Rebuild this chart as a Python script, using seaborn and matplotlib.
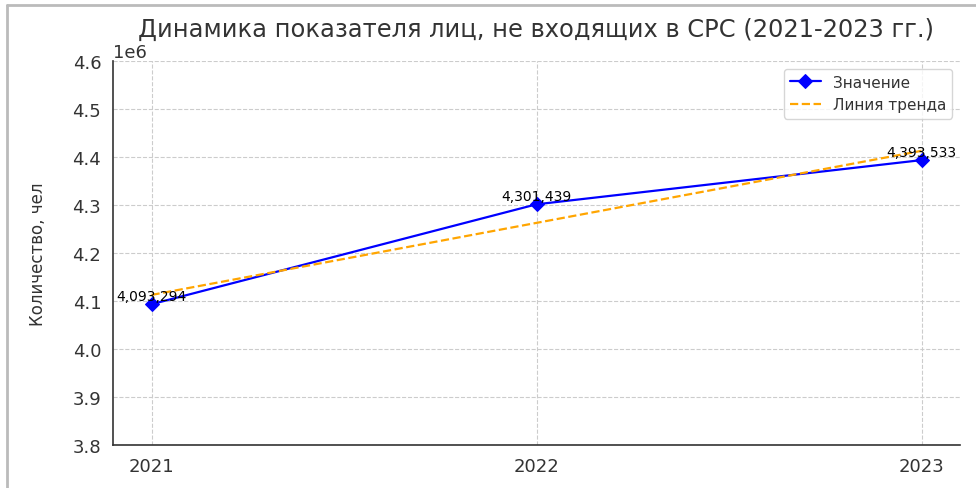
import numpy as np
import pandas as pd
import matplotlib
matplotlib.use("Agg")
import matplotlib.pyplot as plt
import seaborn as sns
from matplotlib.lines import Line2D

# data
years = [2021, 2022, 2023]
values = [4093294, 4301439, 4393533]
labels = ["4,093,294", "4,301,439", "4,393,533"]

df = pd.DataFrame({"year": years, "value": values})

# linear trend
k, b = np.polyfit(df["year"], df["value"], 1)
df["trend"] = k * df["year"] + b

sns.set_style("white")
plt.rcParams["font.family"] = ["DejaVu Sans"]
plt.rcParams["text.color"] = "#333333"
plt.rcParams["axes.labelcolor"] = "#333333"
plt.rcParams["xtick.color"] = "#333333"
plt.rcParams["ytick.color"] = "#333333"

fig = plt.figure(figsize=(9.76, 4.89), dpi=100)
ax = fig.add_axes([113/976, 43/489, (960-113)/976, (446-62)/489])

sns.lineplot(data=df, x="year", y="value", ax=ax, color="blue", marker="D",
             markersize=7, markeredgecolor="blue", linewidth=1.6, label="Значение")
sns.lineplot(data=df, x="year", y="trend", ax=ax, color="orange", linestyle="--",
             linewidth=1.6, label="Линия тренда")

# point labels
for x, y, t in zip(df["year"], df["value"], labels):
    ax.annotate(t, (x, y), xytext=(0, 1), textcoords="offset points",
                ha="center", va="bottom", fontsize=10, color="black")

ax.set_xlim(2020.9, 2023.1)
ax.set_ylim(3.8e6, 4.6e6)
ax.set_xticks(years)
ax.set_yticks(np.arange(3.8e6, 4.61e6, 0.1e6))
ax.tick_params(axis="both", labelsize=13, length=5, width=1)
ax.grid(True, linestyle="--", color="#cccccc", linewidth=0.8)
ax.yaxis.get_offset_text().set_fontsize(13)

for s in ["top", "right"]:
    ax.spines[s].set_visible(False)
for s in ["left", "bottom"]:
    ax.spines[s].set_color("#333333")
    ax.spines[s].set_linewidth(1.2)

ax.set_xlabel("")
ax.set_ylabel("Количество, чел", fontsize=12, labelpad=18)
fig.text(536/976, 1 - 30/489, "Динамика показателя лиц, не входящих в СРС (2021-2023 гг.)",
         fontsize=17.4, ha="center", va="center", color="#333333")

ax.legend(loc="upper right", fontsize=11, frameon=True)

# screenshot frame (left and top edges only)
fig.add_artist(Line2D([7/976, 7/976], [0, 1 - 6/489], transform=fig.transFigure,
                      color="#bbbbbb", linewidth=2))
fig.add_artist(Line2D([7/976, 1], [1 - 6/489, 1 - 6/489], transform=fig.transFigure,
                      color="#bbbbbb", linewidth=2))

fig.savefig("out.png", dpi=100)
